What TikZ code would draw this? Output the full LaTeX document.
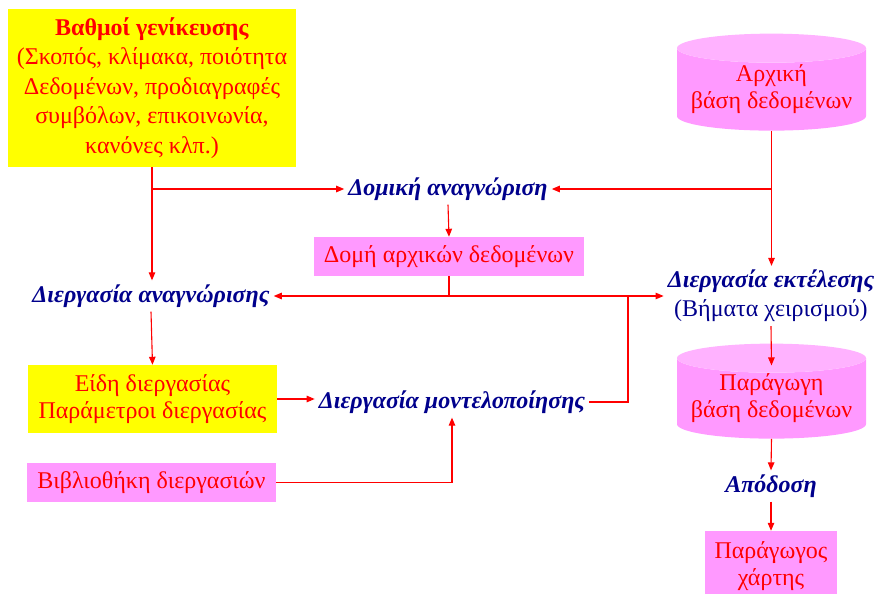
\documentclass[tikz,border=0pt]{standalone}
\usepackage{fontspec}
\setmainfont{Liberation Serif}
\usetikzlibrary{shapes.geometric,arrows.meta,calc}
\definecolor{boxyellow}{RGB}{255,255,0}
\definecolor{boxpink}{RGB}{255,153,255}
\definecolor{dbtop}{RGB}{255,178,255}
\definecolor{procblue}{RGB}{0,0,140}
\tikzset{
  flow/.style={red, line width=1.1pt, -{Triangle[length=8pt,width=6.5pt]}},
  link/.style={red, line width=1.1pt},
  ybox/.style={fill=boxyellow, text=red, align=center, inner sep=0pt},
  pbox/.style={fill=boxpink, text=red, align=center, inner sep=0pt},
  dbase/.style={cylinder, shape border rotate=90, aspect=0.18,
    cylinder uses custom fill, cylinder body fill=boxpink, cylinder end fill=dbtop,
    text=red, align=center, inner sep=0pt, minimum width=189pt},
  proc/.style={text=procblue, font=\bfseries\itshape, inner sep=4pt},
}
\begin{document}
\begin{tikzpicture}[x=1pt,y=-1pt,node font=\fontsize{24}{27}\selectfont]
    \useasboundingbox (0,0) rectangle (879,594);
    %boxes
    \node[ybox, minimum width=288pt, minimum height=158pt,
          font=\fontsize{24}{29.5}\selectfont] (gen) at (152,88)
        {\textbf{Βαθμοί γενίκευσης}\\(Σκοπός, κλίμακα, ποιότητα\\Δεδομένων, προδιαγραφές\\συμβόλων, επικοινωνία,\\κανόνες κλπ.)};
    \node[dbase, minimum height=97pt] (db1) at (771.5,89.5) {Αρχική\\βάση δεδομένων};
    \node[pbox, minimum width=270pt, minimum height=39pt] (domdata) at (449,256.5) {Δομή αρχικών δεδομένων};
    \node[ybox, minimum width=249pt, minimum height=68pt] (types) at (152.5,399) {Είδη διεργασίας\\Παράμετροι διεργασίας};
    \node[pbox, minimum width=249pt, minimum height=39pt] (lib) at (151.5,482.5) {Βιβλιοθήκη διεργασιών};
    \node[dbase, minimum height=95pt] (db2) at (771.5,398.5) {Παράγωγη\\βάση δεδομένων};
    \node[pbox, minimum width=132pt, minimum height=70pt] (map) at (771,566) {Παράγωγος\\χάρτης};
    %processes
    \node[proc] (domrec) at (448,189) {Δομική αναγνώριση};
    \node[proc] (procrec) at (151,296) {Διεργασία αναγνώρισης};
    \node[proc] (model) at (452,402) {Διεργασία μοντελοποίησης};
    \node[proc, align=center, font=\fontsize{24}{29}\selectfont] (exec) at (771,296)
        {\textbf{\textit{Διεργασία εκτέλεσης}}\\\mdseries\upshape(Βήματα χειρισμού)};
    \node[proc] (perf) at (771,486) {Απόδοση};
    %arrows
    \draw[flow] (gen.south) -- (gen.south |- procrec.north);
    \draw[flow] (gen.south |- domrec.west) -- (domrec.west);
    \draw[flow] (db1.south) -- (db1.south |- exec.north);
    \draw[flow] (db1.south |- domrec.east) -- (domrec.east);
    \draw[flow] (domrec.south) -- (domdata.north);
    \coordinate (split) at (domdata.south |- exec.west);
    \coordinate (merge) at (628,0 |- split);
    \draw[link] (domdata.south) -- (split);
    \draw[flow] (split) -- (split -| procrec.east);
    \draw[flow] (split) -- (exec.west);
    \draw[link] (model.east) -| (merge);
    \draw[flow] (procrec.south) -- (types.north);
    \draw[flow] (types.east) -- (types.east -| model.west);
    \draw[flow] (lib.east) -| (model.south);
    \draw[flow] (exec.south) -- ($(db2.north)+(0,22)$);
    \draw[flow] (db2.south) -- (perf.north);
    \draw[flow] (perf.south) -- (map.north);
\end{tikzpicture}
\end{document}
